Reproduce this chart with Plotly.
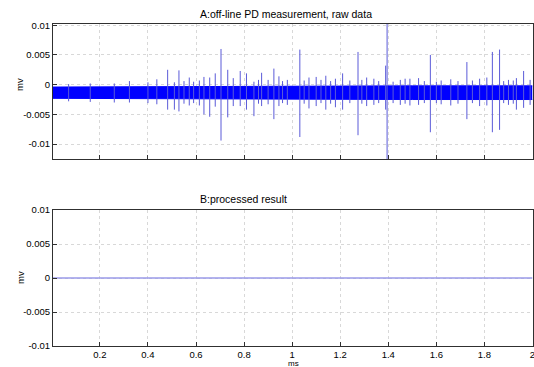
import plotly.graph_objects as go

# ---- data ----
# dense noise band of the raw signal (envelope of the solid blue strip)
band_t = [0.005, 0.5, 1.0, 1.5, 2.0]
band_hi = [-0.0004, -0.0003, -0.0002, -0.0002, -0.0002]
band_lo = [-0.0023, -0.0024, -0.0025, -0.0025, -0.0025]

# PD pulses: time (ms), positive peak, negative peak (mv)
spike_t = [0.07, 0.16, 0.26, 0.323, 0.40, 0.437, 0.482, 0.51, 0.529, 0.55, 0.572, 0.59, 0.614, 0.633,
           0.657, 0.68, 0.704, 0.732, 0.755, 0.784, 0.81, 0.841, 0.86, 0.873, 0.90,
           0.924, 0.945, 0.96, 0.98, 1.032, 1.05, 1.07, 1.10, 1.12, 1.14, 1.16, 1.18, 1.21, 1.24,
           1.274, 1.29, 1.31, 1.34, 1.36, 1.389, 1.395, 1.42, 1.45, 1.47, 1.49, 1.526, 1.55,
           1.575, 1.60, 1.62, 1.66, 1.69, 1.727, 1.75, 1.78, 1.81,
           1.833, 1.863, 1.88, 1.90, 1.92, 1.933, 1.963, 1.99]
spike_hi = [0.0001, 0.0002, 0.0002, 0.0006, 0.0004, 0.0009, 0.0025, 0.0004, 0.0024, 0.0006, 0.0012, 0.0005, 0.0007, 0.0013,
            0.0012, 0.0019, 0.0060, 0.0025, 0.0011, 0.0023, 0.0019, 0.0005, 0.0008, 0.0020, 0.0008,
            0.0027, 0.0014, 0.0006, 0.0008, 0.0059, 0.0007, 0.0012, 0.0013, 0.0008, 0.0015, 0.0006, 0.0010, 0.0019, 0.0007,
            0.0055, 0.0008, 0.0012, 0.0010, 0.0006, 0.0032, 0.0102, 0.0005, 0.0008, 0.0010, 0.0010, 0.0011, 0.0006,
            0.0050, 0.0005, 0.0007, 0.0009, 0.0006, 0.0038, 0.0007, 0.0010, 0.0012,
            0.0055, 0.0059, 0.0006, 0.0008, 0.0007, 0.0011, 0.0023, 0.0008]
spike_lo = [-0.0028, -0.0029, -0.0030, -0.0030, -0.0031, -0.0033, -0.0042, -0.0042, -0.0045, -0.0032, -0.0035, -0.0031, -0.0035, -0.0050,
            -0.0054, -0.0037, -0.0094, -0.0055, -0.0036, -0.0036, -0.0042, -0.0053, -0.0032, -0.0036, -0.0033,
            -0.0058, -0.0036, -0.0031, -0.0034, -0.0088, -0.0032, -0.0040, -0.0036, -0.0031, -0.0042, -0.0032, -0.0038, -0.0042, -0.0031,
            -0.0085, -0.0032, -0.0036, -0.0034, -0.0031, -0.0042, -0.0125, -0.0031, -0.0034, -0.0032, -0.0035, -0.0034, -0.0031,
            -0.0080, -0.0031, -0.0033, -0.0035, -0.0032, -0.0058, -0.0031, -0.0036, -0.0035,
            -0.0080, -0.0076, -0.0031, -0.0034, -0.0032, -0.0042, -0.0039, -0.0034]

# processed result (flat zero line)
proc_t = [0.005, 2.0]
proc_v = [0.0, 0.0]

x_ticks = [0.2, 0.4, 0.6, 0.8, 1.0, 1.2, 1.4, 1.6, 1.8, 2.0]
x_tick_text = ["0.2", "0.4", "0.6", "0.8", "1", "1.2", "1.4", "1.6", "1.8", "2"]
y_ticks = [-0.01, -0.005, 0, 0.005, 0.01]
y_tick_text = ["-0.01", "-0.005", "0", "0.005", "0.01"]

title_a = "A:off-line PD measurement, raw data"
title_b = "B:processed result"

# ---- figure ----
fig = go.Figure()

# noise band
fig.add_trace(go.Scatter(x=band_t, y=band_lo, mode="lines", line=dict(color="#0000ff", width=1),
                         xaxis="x", yaxis="y", showlegend=False, hoverinfo="skip"))
fig.add_trace(go.Scatter(x=band_t, y=band_hi, mode="lines", line=dict(color="#0000ff", width=1),
                         fill="tonexty", fillcolor="#0000ff",
                         xaxis="x", yaxis="y", showlegend=False, hoverinfo="skip"))

# spikes as vertical segments
sx, sy = [], []
for t, hi, lo in zip(spike_t, spike_hi, spike_lo):
    sx += [t, t, None]
    sy += [lo, hi, None]
fig.add_trace(go.Scatter(x=sx, y=sy, mode="lines", line=dict(color="#5a5ad8", width=1),
                         xaxis="x", yaxis="y", showlegend=False, hoverinfo="skip"))

# processed
fig.add_trace(go.Scatter(x=proc_t, y=proc_v, mode="lines", line=dict(color="#9a9ae8", width=1.5),
                         xaxis="x2", yaxis="y2", showlegend=False, hoverinfo="skip"))

W, H = 534, 367
xdom = [53 / W, 532.5 / W]
ydom_top = [(H - 159) / H, (H - 24) / H]
ydom_bot = [(H - 346) / H, (H - 210) / H]
x_range = [0.005, 2.0]

font = dict(family="Liberation Sans, Arial, sans-serif", size=9.5, color="#000000")
title_font = dict(family="Liberation Sans, Arial, sans-serif", size=10.5, color="#000000")
axis_common = dict(showline=True, linecolor="#303030", linewidth=1, mirror=True,
                   ticks="inside", ticklen=4, tickcolor="#303030",
                   showgrid=True, gridcolor="#d8d8d8", griddash="dot", gridwidth=1,
                   zeroline=False, tickfont=font, automargin=False,
                   ticklabeloverflow="allow")

fig.update_layout(
    width=W, height=H, margin=dict(l=0, r=0, t=0, b=0, autoexpand=False),
    paper_bgcolor="white", plot_bgcolor="white", showlegend=False,
    xaxis=dict(domain=xdom, anchor="y", range=x_range, tickvals=x_ticks,
               showticklabels=False, **axis_common),
    yaxis=dict(domain=ydom_top, anchor="x", range=[-0.0125, 0.0102], tickvals=y_ticks,
               ticktext=y_tick_text, **axis_common),
    xaxis2=dict(domain=xdom, anchor="y2", range=x_range, tickvals=x_ticks,
                ticktext=x_tick_text, **axis_common),
    yaxis2=dict(domain=ydom_bot, anchor="x2", range=[-0.01, 0.01], tickvals=y_ticks,
                ticktext=y_tick_text, **axis_common),
    annotations=[
        dict(text=title_a, x=198 / W, y=(H - 14) / H, xref="paper", yref="paper",
             showarrow=False, font=title_font, xanchor="left", yanchor="middle"),
        dict(text=title_b, x=198 / W, y=(H - 199) / H, xref="paper", yref="paper",
             showarrow=False, font=title_font, xanchor="left", yanchor="middle"),
        dict(text="mv", x=20 / W, y=(H - 85) / H, xref="paper", yref="paper", textangle=-90,
             showarrow=False, font=font, xanchor="center", yanchor="middle"),
        dict(text="mv", x=20 / W, y=(H - 278) / H, xref="paper", yref="paper", textangle=-90,
             showarrow=False, font=font, xanchor="center", yanchor="middle"),
        dict(text="ms", x=293 / W, y=(H - 363) / H, xref="paper", yref="paper",
             showarrow=False, font=dict(family=font["family"], size=8, color="#000000"),
             xanchor="center", yanchor="middle"),
    ],
)

fig.write_html("out.html", config={"displayModeBar": False},
               post_script="document.body.style.margin='0';document.body.style.overflow='hidden';")
